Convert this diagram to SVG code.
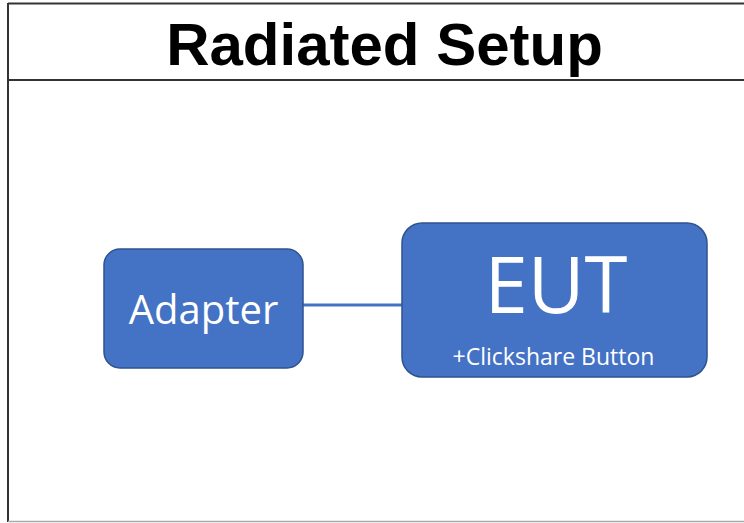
<svg xmlns="http://www.w3.org/2000/svg" width="744" height="523" viewBox="0 0 744 523">
<style>
.box{fill:#4472C4;stroke:#2F528F;stroke-width:1.5}
.lbl{fill:#ffffff;font-family:"Open Sans","Noto Sans",sans-serif;text-anchor:middle}
.frame{stroke:#333;stroke-width:2;fill:none}
</style>
<rect width="744" height="523" fill="#ffffff"/>
<g id="frame">
<line class="frame" x1="8" y1="3.5" x2="744" y2="3.5"/>
<line class="frame" x1="8" y1="3" x2="8" y2="522"/>
<line class="frame" x1="8" y1="80" x2="744" y2="80"/>
<line x1="8" y1="521.5" x2="744" y2="521.5" stroke="#aaa" stroke-width="1.5"/>
<text x="384.5" y="65" font-family="'Liberation Sans',Arial,sans-serif" font-weight="bold" font-size="60" text-anchor="middle" fill="#000">Radiated Setup</text>
</g>
<g id="connectors">
<line x1="303" y1="305" x2="403" y2="305" stroke="#4472C4" stroke-width="3"/>
</g>
<g id="adapter">
<rect class="box" x="104" y="249" width="199" height="119" rx="16"/>
<text class="lbl" x="203.5" y="324" font-size="40">Adapter</text>
</g>
<g id="eut">
<rect class="box" x="402" y="223" width="305" height="154" rx="20"/>
<text class="lbl" x="556" y="313" font-size="78">EUT</text>
<text class="lbl" x="553.5" y="365" font-size="23">+Clickshare Button</text>
</g>
</svg>
